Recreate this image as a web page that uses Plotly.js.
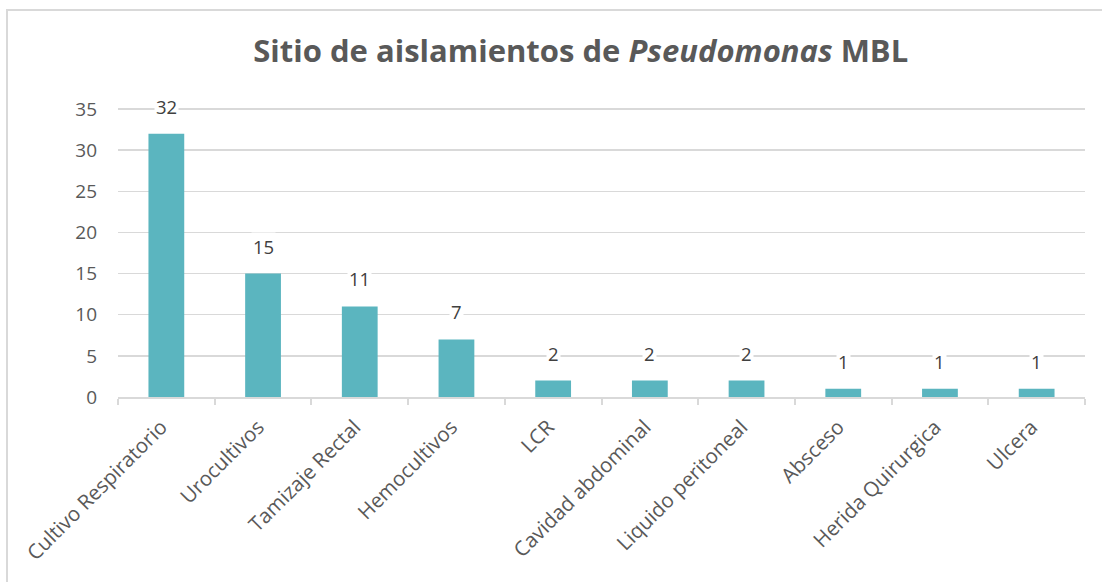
<!DOCTYPE html>
<html>
<head>
<meta charset="utf-8">
<script src="https://cdn.plot.ly/plotly-3.0.1.min.js"></script>
<style>
html, body { margin:0; padding:0; background:#fff; overflow:hidden; }
#chart { width:1102px; height:582px; position:relative; }
#frame { position:absolute; left:6px; top:9px; width:1200px; height:700px; border:2px solid #d9d9d9; pointer-events:none; }
</style>
</head>
<body>
<div id="chart"></div>
<div id="frame"></div>
<script>
const categories = ["Cultivo Respiratorio", "Urocultivos", "Tamizaje Rectal", "Hemocultivos", "LCR",
  "Cavidad abdominal", "Liquido peritoneal", "Absceso", "Herida Quirurgica", "Ulcera"];
const values = [32, 15, 11, 7, 2, 2, 2, 1, 1, 1];
const yTicks = [0, 5, 10, 15, 20, 25, 30, 35];
const titleText = "Sitio de aislamientos de <i>Pseudomonas</i> MBL";

const trace = {
  type: "bar",
  x: categories,
  y: values,
  marker: { color: "#5BB5BF" },
  hoverinfo: "x+y"
};

const annotations = categories.map((c, i) => ({
  x: c, y: values[i], xref: "x", yref: "y",
  text: String(values[i]),
  showarrow: false,
  yanchor: "bottom",
  yshift: 13,
  bgcolor: "#ffffff",
  borderpad: 1,
  font: { family: "Open Sans, sans-serif", size: 18.5, color: "#404040" }
}));

const layout = {
  width: 1102, height: 582,
  margin: { l: 118, r: 17, t: 106, b: 185 },
  paper_bgcolor: "#ffffff",
  plot_bgcolor: "#ffffff",
  bargap: 0.63,
  showlegend: false,
  title: {
    text: titleText,
    x: 0.527, xanchor: "center",
    y: 0.912, yanchor: "middle",
    font: { family: "Open Sans, sans-serif", size: 31, color: "#595959", weight: "bold" }
  },
  xaxis: {
    type: "category",
    tickson: "boundaries",
    ticks: "outside",
    ticklen: 6,
    tickcolor: "#d9d9d9",
    tickwidth: 2,
    showline: true,
    linecolor: "#d9d9d9",
    linewidth: 2,
    tickangle: -45,
    ticklabelshift: -5,
    ticklabelstandoff: 8,
    tickfont: { family: "Open Sans, sans-serif", size: 20.5, color: "#595959" },
    showgrid: false,
    fixedrange: true
  },
  yaxis: {
    range: [0, 35.36],
    tickvals: yTicks,
    ticktext: yTicks.map(String),
    showgrid: true,
    gridcolor: "#d9d9d9",
    gridwidth: 1.5,
    zeroline: false,
    showline: false,
    ticks: "",
    ticklabelstandoff: 20,
    tickfont: { family: "Open Sans, sans-serif", size: 19, color: "#595959" },
    fixedrange: true
  },
  annotations: annotations
};

Plotly.newPlot("chart", [trace], layout, { displayModeBar: false, staticPlot: true });
</script>
</body>
</html>
